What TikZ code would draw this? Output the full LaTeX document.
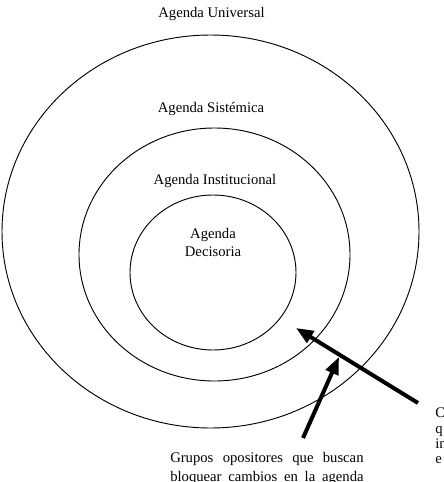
\documentclass[tikz,border=0pt]{standalone}
\usepackage{fontspec}
\setmainfont{Liberation Serif}
\usetikzlibrary{arrows.meta}

\begin{document}
\begin{tikzpicture}[x=0.75pt,y=-0.75pt,
    ring/.style={line width=0.7pt},
    lbl/.style={font=\fontsize{11}{13.6}\selectfont,inner sep=0pt},
    push/.style={line width=3pt,-{Triangle[length=13pt,width=10pt]}}]
    \useasboundingbox (0,0) rectangle (443,482);
    \clip (0,0) rectangle (443,482);
    \draw[ring] (210.5,231.5) ellipse (208.5 and 196.5);
    \draw[ring] (214.5,254.5) ellipse (135.5 and 126.5);
    \draw[ring] (213,272.5) ellipse (83 and 77.5);
    \node[lbl] (univ) at (211.5,14) {Agenda Universal};
    \node[lbl] (sist) at (211,109) {Agenda Sistémica};
    \node[lbl] (inst) at (215,181) {Agenda Institucional};
    \node[lbl,align=center] (deci) at (213,242.5) {Agenda\\Decisoria};
    \node[lbl,anchor=north west,align=left,font=\fontsize{11}{13.9}\selectfont] (oppo) at (170,452.5)
        {\makebox[145pt][s]{Grupos opositores que buscan}\\
         \makebox[145pt][s]{bloquear cambios en la agenda}};
    \node[lbl,anchor=north west,align=left,font=\fontsize{11}{11.5}\selectfont] (prom) at (435,408)
        {C\\q\\in\\e};
    \coordinate (tailA) at (418,403);
    \coordinate (tipA) at (296,328);
    \coordinate (tailB) at (303,438);
    \coordinate (tipB) at (339,357);
    \draw[push] (tailA) -- (tipA);
    \draw[push] (tailB) -- (tipB);
\end{tikzpicture}
\end{document}
